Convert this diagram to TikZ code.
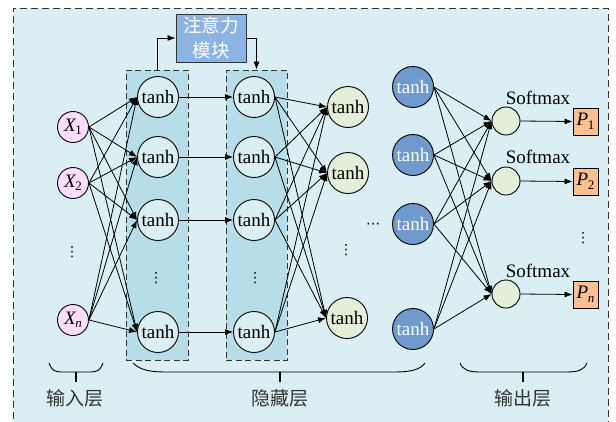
\documentclass[tikz,border=0pt]{standalone}
\usepackage{fontspec}
\setmainfont{Liberation Serif}
\newfontfamily\cjk{Noto Sans CJK SC}
\newfontfamily\symfont{DejaVu Sans}
\usetikzlibrary{arrows.meta}

\definecolor{bgblue}{HTML}{DAEEF3}
\definecolor{colblue}{HTML}{B7DDE8}
\definecolor{attblue}{HTML}{8DB3E2}
\definecolor{inpink}{HTML}{FFDDFF}
\definecolor{lgreen}{HTML}{E3EFD9}
\definecolor{dblue}{HTML}{7099CE}
\definecolor{porange}{HTML}{FAC090}
\definecolor{edgegray}{HTML}{333333}

\newcommand{\varsub}[2]{{\itshape #1}\kern-0.5pt\raisebox{-3.5pt}{\fontsize{13}{13}\selectfont #2}}

\begin{document}
\begin{tikzpicture}[x=1pt,y=-1pt,
  font=\fontsize{19}{22}\selectfont,
  neuron/.style={circle,draw,line width=0.9pt,minimum size=41pt,inner sep=0pt},
  inneuron/.style={circle,draw,line width=0.9pt,minimum size=31pt,inner sep=0pt,fill=inpink},
  hidneuron/.style={neuron,fill=bgblue},
  greenneuron/.style={neuron,fill=lgreen},
  darkneuron/.style={neuron,fill=dblue,text=white},
  softneuron/.style={circle,draw,line width=0.9pt,minimum size=28pt,inner sep=0pt,fill=lgreen},
  outbox/.style={draw,line width=0.9pt,fill=porange,minimum width=25pt,minimum height=27pt,inner sep=0pt},
  colbox/.style={draw=edgegray,dashed,dash pattern=on 6pt off 3.5pt,line width=1pt,fill=colblue,
                 minimum width=62pt,minimum height=290pt,inner sep=0pt},
  attbox/.style={draw=edgegray,line width=1pt,fill=attblue,text=white,minimum width=70pt,
                 minimum height=48pt,inner sep=0pt,align=center,font=\cjk\fontsize{18.5}{25}\selectfont},
  arr/.style={-{Latex[length=8pt,width=6pt]},line width=0.8pt},
  dotsnode/.style={inner sep=0pt,font=\symfont\fontsize{14}{14}\selectfont},
  layerlabel/.style={font=\cjk\fontsize{19}{22}\selectfont,text=black!80},
  bracepath/.style={line width=0.9pt},
  bracetick/.style={line width=1.3pt}
]
\useasboundingbox (0,0) rectangle (616,421);

% outer panel
\fill[bgblue] (13,8) rectangle (608,430);
\draw[dashed,dash pattern=on 7pt off 4pt,line width=0.9pt,edgegray] (13,430) -- (13,8) -- (608,8) -- (608,430);

% hidden layer groups
\node[colbox] (box1) at (157,215) {};
\node[colbox,minimum width=61pt] (box2) at (256.5,215) {};

% attention module
\node[attbox] (att) at (211,38) {注意力\\模块};
\draw[arr] (box1.north) |- (att.west);
\draw[arr] (att.east) -| (box2.north);

% input layer
\node[inneuron] (x1) at (73,127) {\varsub{X}{1}};
\node[inneuron] (x2) at (73,183) {\varsub{X}{2}};
\node[dotsnode] (xdots) at (72,252) {⋮};
\node[inneuron] (xn) at (73,320) {\varsub{X}{\itshape n}};

% first hidden column
\node[hidneuron] (a1) at (158,97) {tanh};
\node[hidneuron] (a2) at (158,157) {tanh};
\node[hidneuron] (a3) at (158,220) {tanh};
\node[dotsnode] (adots) at (156,278) {⋮};
\node[hidneuron] (a4) at (158,332) {tanh};

% second hidden column
\node[hidneuron] (b1) at (254,97) {tanh};
\node[hidneuron] (b2) at (254,157) {tanh};
\node[hidneuron] (b3) at (254,220) {tanh};
\node[dotsnode] (bdots) at (255,278) {⋮};
\node[hidneuron] (b4) at (254,332) {tanh};

% third hidden column
\node[greenneuron] (c1) at (348,107) {tanh};
\node[greenneuron] (c2) at (348,173) {tanh};
\node[dotsnode] (cdots) at (346,250) {⋮};
\node[greenneuron] (c3) at (347,318) {tanh};

\node[dotsnode] (hdots) at (373,226) {⋯};

% last hidden column
\node[darkneuron] (d1) at (413,87) {tanh};
\node[darkneuron] (d2) at (413,155) {tanh};
\node[darkneuron] (d3) at (413,224) {tanh};
\node[darkneuron] (d4) at (413,329) {tanh};

% softmax units and outputs
\node[softneuron] (s1) at (506,121) {};
\node[softneuron] (s2) at (506,181) {};
\node[softneuron] (s3) at (506,294) {};
\node (sl1) at (538,98) {Softmax};
\node (sl2) at (538,157) {Softmax};
\node (sl3) at (538,271) {Softmax};

\node[outbox] (p1) at (585.5,121.5) {\varsub{P}{1}};
\node[outbox] (p2) at (585.5,181.5) {\varsub{P}{2}};
\node[dotsnode] (pdots) at (583,238) {⋮};
\node[outbox] (p3) at (585.5,294.5) {\varsub{P}{\itshape n}};

% connections
\foreach \i in {x1,x2,xn}
  \foreach \j in {a1,a2,a3,a4}
    \draw[arr] (\i.east) -- (\j.west);
\foreach \k in {1,2,3,4}
  \draw[arr] (a\k.east) -- (b\k.west);
\foreach \i in {b1,b2,b3,b4}
  \foreach \j in {c1,c2,c3}
    \draw[arr] (\i.east) -- (\j.west);
\foreach \i in {d1,d2,d3,d4}
  \foreach \j in {s1,s2,s3}
    \draw[arr] (\i.east) -- (\j.west);
\foreach \k in {1,2,3}
  \draw[arr] (s\k.east) -- (p\k.west);

% layer braces
\draw[bracepath] (49,363) .. controls (52,371) and (55,372) .. (63,372) -- (89,372)
  .. controls (97,372) and (100,371) .. (103,363);
\draw[bracetick] (76,372) -- (76,382);
\draw[bracepath] (133,363) .. controls (140,370) and (150,372) .. (166,372) -- (394,372)
  .. controls (410,372) and (420,370) .. (425,363);
\draw[bracetick] (280,372) -- (280,382);
\draw[bracepath] (460,363) .. controls (463,370) and (469,372) .. (480,372) -- (567,372)
  .. controls (578,372) and (584,370) .. (587,363);
\draw[bracetick] (523,372) -- (523,382);

\node[layerlabel] (lin) at (75,398) {输入层};
\node[layerlabel] (lhid) at (280,398) {隐藏层};
\node[layerlabel] (lout) at (523,398) {输出层};
\end{tikzpicture}
\end{document}
